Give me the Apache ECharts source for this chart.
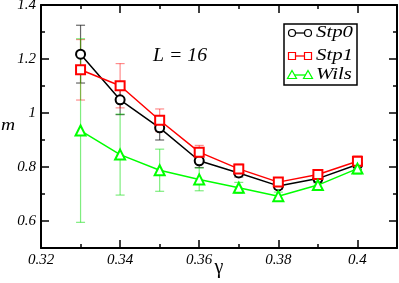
<!DOCTYPE html>
<html>
<head>
<meta charset="utf-8">
<script src="https://cdn.jsdelivr.net/npm/echarts@6/dist/echarts.min.js"></script>
<style>
html,body{margin:0;padding:0;background:#fff;}
#chart{width:399px;height:283px;}
#log{position:absolute;left:0;top:0;font:9px monospace;color:#c00;white-space:pre-wrap;}
</style>
</head>
<body>
<div id="chart"></div>
<div id="log"></div>
<script>
var logs=[];
function log(m){logs.push(m);document.getElementById('log').textContent=logs.join('\n');}
window.onerror=function(m){log('ERR '+m);};
console.error=function(){log('CE '+Array.prototype.join.call(arguments,' ').slice(0,200));};

// ---- data ----
var gammaValues = [0.33, 0.34, 0.35, 0.36, 0.37, 0.38, 0.39, 0.40];
var stp0Values = [1.218, 1.049, 0.945, 0.823, 0.778, 0.730, 0.757, 0.809];
var stp0Errors = [0.107, 0.055, 0.045, 0.025, 0.015, 0.012, 0.015, 0.018];
var stp1Values = [1.160, 1.101, 0.973, 0.855, 0.793, 0.744, 0.772, 0.821];
var stp1Errors = [0.112, 0.082, 0.042, 0.025, 0.018, 0.015, 0.015, 0.020];
var wilsValues = [0.935, 0.846, 0.788, 0.754, 0.723, 0.692, 0.733, 0.794];
var wilsErrors = [0.340, 0.150, 0.078, 0.042, 0.020, 0.015, 0.015, 0.020];
var seriesNames = ['Stp0', 'Stp1', 'Wils'];
var xMajorTicks = [0.32, 0.34, 0.36, 0.38, 0.40];
var xMinorTicks = [0.33, 0.35, 0.37, 0.39];
var yMajorTicks = [0.6, 0.8, 1.0, 1.2, 1.4];
var yMinorTicks = [0.7, 0.9, 1.1, 1.3];
var xRange = [0.32, 0.41];
var yRange = [0.5, 1.4];

var colors = ['#000000', '#ff0000', '#00ff00'];
var errColors = ['rgba(0,0,0,0.6)', 'rgba(255,0,0,0.45)', 'rgba(0,220,0,0.5)'];
var symbols = ['emptyCircle', 'emptyRect', 'emptyTriangle'];
var valueSets = [stp0Values, stp1Values, wilsValues];
var errorSets = [stp0Errors, stp1Errors, wilsErrors];

var labelFont = 'Liberation Serif';
function fmt(v){ return String(+(+v).toFixed(2)); }

var chart = echarts.init(document.getElementById('chart'), null, {renderer:'canvas'});
var gridRect = {left:41, right:2, top:5, bottom:35, outerBoundsMode:'none', containLabel:false};

function makeAxis(gridIndex, pos, showLine, showLabel, ticks, tickLen, range){
  var ax = {
    type:'value', gridIndex:gridIndex, position:pos, min:range[0], max:range[1],
    axisLine:{show:showLine, onZero:false, lineStyle:{color:'#000', width:2}},
    axisTick:{show:true, inside:true, length:tickLen, customValues:ticks, lineStyle:{color:'#000', width:1.5}},
    axisLabel:{show:false},
    splitLine:{show:false}
  };
  if (showLabel) {
    ax.axisLabel = {show:true, customValues:ticks, formatter:fmt, fontFamily:labelFont, fontStyle:'italic',
      fontSize:15, color:'#000', margin:5};
  }
  return ax;
}

var series = [];
for (var s = 0; s < 3; s++) {
  (function(s){
    var errData = gammaValues.map(function(g, i){
      return [g, valueSets[s][i] - errorSets[s][i], valueSets[s][i] + errorSets[s][i]];
    });
    series.push({
      type:'custom', name:seriesNames[s]+' err', xAxisIndex:0, yAxisIndex:0, z:1,
      data:errData, silent:true,
      renderItem:function(params, api){
        var x = api.value(0);
        var lo = api.coord([x, api.value(1)]);
        var hi = api.coord([x, api.value(2)]);
        var w = 4.5;
        var st = {stroke:errColors[s], lineWidth:1.2};
        return {type:'group', children:[
          {type:'line', shape:{x1:lo[0], y1:lo[1], x2:hi[0], y2:hi[1]}, style:st},
          {type:'line', shape:{x1:lo[0]-w, y1:lo[1], x2:lo[0]+w, y2:lo[1]}, style:st},
          {type:'line', shape:{x1:hi[0]-w, y1:hi[1], x2:hi[0]+w, y2:hi[1]}, style:st}
        ]};
      }
    });
  })(s);
}
for (var s2 = 0; s2 < 3; s2++) {
  series.push({
    type:'line', name:seriesNames[s2], xAxisIndex:0, yAxisIndex:0, z:3,
    data:gammaValues.map(function(g, i){ return [g, valueSets[s2][i]]; }),
    symbol:symbols[s2], symbolSize: s2 === 2 ? 10 : 9,
    color:colors[s2],
    lineStyle:{color:colors[s2], width:1.5},
    itemStyle:{color:colors[s2], borderColor:colors[s2], borderWidth:1.3},
    animation:false
  });
}

// legend drawn as graphic
var legendX = 284, legendY = 24, legendW = 73, legendH = 61;
var legendRows = [33, 56, 75];
var graphics = [
  {type:'rect', shape:{x:legendX, y:legendY, width:legendW, height:legendH},
   style:{fill:'#fff', stroke:'#000', lineWidth:1.5}, z:10}
];
legendRows.forEach(function(yy, i){
  var c = colors[i];
  graphics.push({type:'line', shape:{x1:292, y1:yy, x2:308, y2:yy}, style:{stroke:c, lineWidth:1.3}, z:11});
  [292, 308].forEach(function(xx){
    if (i === 0) graphics.push({type:'circle', shape:{cx:xx, cy:yy, r:3.5}, style:{fill:'#fff', stroke:c, lineWidth:1.2}, z:12});
    if (i === 1) graphics.push({type:'rect', shape:{x:xx-3.5, y:yy-3.5, width:7, height:7}, style:{fill:'#fff', stroke:c, lineWidth:1.2}, z:12});
    if (i === 2) graphics.push({type:'polygon', shape:{points:[[xx, yy-4.5],[xx+4.5, yy+3.5],[xx-4.5, yy+3.5]]}, style:{fill:'#fff', stroke:c, lineWidth:1.2}, z:12});
  });
  graphics.push({type:'text', x:316, y:yy, scaleX:1.3, z:12,
    style:{text:seriesNames[i], font:'italic 16px "Liberation Serif"', fill:'#000', verticalAlign:'middle', align:'left'}});
});
graphics.push({type:'text', x:153, y:56, scaleX:1.1,
  style:{text:'L = 16', font:'italic 18px "Liberation Serif"', fill:'#000', verticalAlign:'middle', align:'left'}});
graphics.push({type:'text', x:8, y:126, scaleX:1.15,
  style:{text:'m', font:'italic 17px "Liberation Serif"', fill:'#000', verticalAlign:'middle', align:'center'}});
graphics.push({type:'text', x:219, y:268,
  style:{text:'γ', font:'20px "Liberation Serif"', fill:'#000', verticalAlign:'middle', align:'center'}});

try {
chart.setOption({
  animation:false,
  backgroundColor:'#fff',
  grid:[
    Object.assign({}, gridRect),
    Object.assign({}, gridRect)
  ],
  xAxis:[
    makeAxis(0, 'bottom', true, true, xMajorTicks, 8, xRange),
    makeAxis(0, 'top', true, false, xMajorTicks, 8, xRange),
    makeAxis(1, 'bottom', false, false, xMinorTicks, 4, xRange),
    makeAxis(1, 'top', false, false, xMinorTicks, 4, xRange)
  ],
  yAxis:[
    makeAxis(0, 'left', true, true, yMajorTicks, 8, yRange),
    makeAxis(0, 'right', true, false, yMajorTicks, 8, yRange),
    makeAxis(1, 'left', false, false, yMinorTicks, 4, yRange),
    makeAxis(1, 'right', false, false, yMinorTicks, 4, yRange)
  ],
  series:series,
  graphic:graphics
});
} catch(e) { log('EXC '+e.message); }
</script>
</body>
</html>
